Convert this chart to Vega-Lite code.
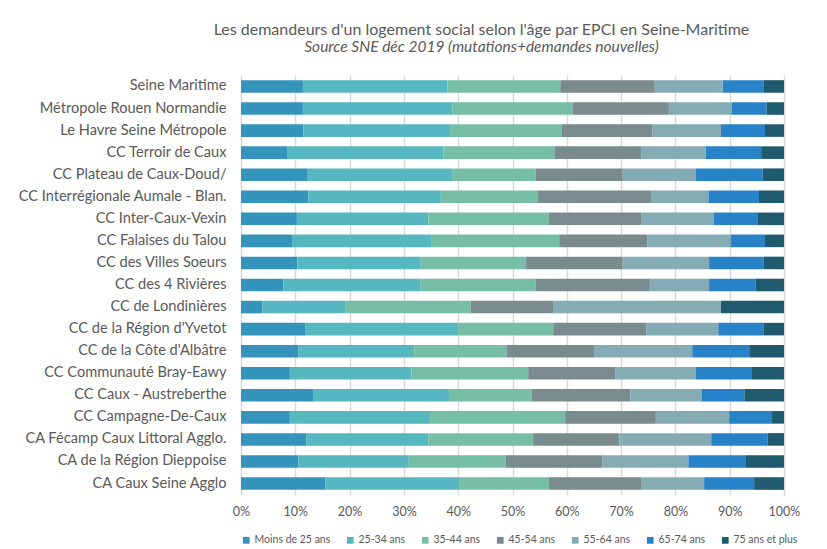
{
  "$schema": "https://vega.github.io/schema/vega-lite/v6.json",
  "width": 543,
  "height": 420,
  "autosize": {"type": "none"},
  "padding": {"left": 241, "top": 75, "right": 43, "bottom": 54},
  "background": "white",
  "title": {
    "text": "Les demandeurs d'un logement social selon l'âge par EPCI en Seine-Maritime",
    "subtitle": "Source SNE déc 2019 (mutations+demandes nouvelles)",
    "anchor": "middle",
    "frame": "group",
    "dx": -31,
    "offset": 20,
    "font": "Lato",
    "fontSize": 16,
    "fontWeight": "normal",
    "color": "#595959",
    "subtitleFont": "Lato",
    "subtitleFontSize": 15.5,
    "subtitleFontStyle": "italic",
    "subtitleColor": "#595959",
    "subtitlePadding": 2
  },
  "data": {
    "values": [
      {"epci":"Seine Maritime","age":"Moins de 25 ans","ordre":1,"pct":11.4},
      {"epci":"Seine Maritime","age":"25-34 ans","ordre":2,"pct":26.6},
      {"epci":"Seine Maritime","age":"35-44 ans","ordre":3,"pct":20.8},
      {"epci":"Seine Maritime","age":"45-54 ans","ordre":4,"pct":17.4},
      {"epci":"Seine Maritime","age":"55-64 ans","ordre":5,"pct":12.5},
      {"epci":"Seine Maritime","age":"65-74 ans","ordre":6,"pct":7.5},
      {"epci":"Seine Maritime","age":"75 ans et plus","ordre":7,"pct":3.8},

      {"epci":"Métropole Rouen Normandie","age":"Moins de 25 ans","ordre":1,"pct":11.4},
      {"epci":"Métropole Rouen Normandie","age":"25-34 ans","ordre":2,"pct":27.5},
      {"epci":"Métropole Rouen Normandie","age":"35-44 ans","ordre":3,"pct":22.2},
      {"epci":"Métropole Rouen Normandie","age":"45-54 ans","ordre":4,"pct":17.7},
      {"epci":"Métropole Rouen Normandie","age":"55-64 ans","ordre":5,"pct":11.6},
      {"epci":"Métropole Rouen Normandie","age":"65-74 ans","ordre":6,"pct":6.4},
      {"epci":"Métropole Rouen Normandie","age":"75 ans et plus","ordre":7,"pct":3.2},

      {"epci":"Le Havre Seine Métropole","age":"Moins de 25 ans","ordre":1,"pct":11.5},
      {"epci":"Le Havre Seine Métropole","age":"25-34 ans","ordre":2,"pct":27.0},
      {"epci":"Le Havre Seine Métropole","age":"35-44 ans","ordre":3,"pct":20.6},
      {"epci":"Le Havre Seine Métropole","age":"45-54 ans","ordre":4,"pct":16.7},
      {"epci":"Le Havre Seine Métropole","age":"55-64 ans","ordre":5,"pct":12.6},
      {"epci":"Le Havre Seine Métropole","age":"65-74 ans","ordre":6,"pct":8.1},
      {"epci":"Le Havre Seine Métropole","age":"75 ans et plus","ordre":7,"pct":3.5},

      {"epci":"CC Terroir de Caux","age":"Moins de 25 ans","ordre":1,"pct":8.6},
      {"epci":"CC Terroir de Caux","age":"25-34 ans","ordre":2,"pct":28.7},
      {"epci":"CC Terroir de Caux","age":"35-44 ans","ordre":3,"pct":20.5},
      {"epci":"CC Terroir de Caux","age":"45-54 ans","ordre":4,"pct":16.0},
      {"epci":"CC Terroir de Caux","age":"55-64 ans","ordre":5,"pct":11.8},
      {"epci":"CC Terroir de Caux","age":"65-74 ans","ordre":6,"pct":10.2},
      {"epci":"CC Terroir de Caux","age":"75 ans et plus","ordre":7,"pct":4.2},

      {"epci":"CC Plateau de Caux-Doud/","age":"Moins de 25 ans","ordre":1,"pct":12.3},
      {"epci":"CC Plateau de Caux-Doud/","age":"25-34 ans","ordre":2,"pct":26.7},
      {"epci":"CC Plateau de Caux-Doud/","age":"35-44 ans","ordre":3,"pct":15.3},
      {"epci":"CC Plateau de Caux-Doud/","age":"45-54 ans","ordre":4,"pct":16.0},
      {"epci":"CC Plateau de Caux-Doud/","age":"55-64 ans","ordre":5,"pct":13.5},
      {"epci":"CC Plateau de Caux-Doud/","age":"65-74 ans","ordre":6,"pct":12.3},
      {"epci":"CC Plateau de Caux-Doud/","age":"75 ans et plus","ordre":7,"pct":3.9},

      {"epci":"CC Interrégionale Aumale - Blan.","age":"Moins de 25 ans","ordre":1,"pct":12.4},
      {"epci":"CC Interrégionale Aumale - Blan.","age":"25-34 ans","ordre":2,"pct":24.4},
      {"epci":"CC Interrégionale Aumale - Blan.","age":"35-44 ans","ordre":3,"pct":17.9},
      {"epci":"CC Interrégionale Aumale - Blan.","age":"45-54 ans","ordre":4,"pct":20.8},
      {"epci":"CC Interrégionale Aumale - Blan.","age":"55-64 ans","ordre":5,"pct":10.6},
      {"epci":"CC Interrégionale Aumale - Blan.","age":"65-74 ans","ordre":6,"pct":9.3},
      {"epci":"CC Interrégionale Aumale - Blan.","age":"75 ans et plus","ordre":7,"pct":4.6},

      {"epci":"CC Inter-Caux-Vexin","age":"Moins de 25 ans","ordre":1,"pct":10.3},
      {"epci":"CC Inter-Caux-Vexin","age":"25-34 ans","ordre":2,"pct":24.2},
      {"epci":"CC Inter-Caux-Vexin","age":"35-44 ans","ordre":3,"pct":22.2},
      {"epci":"CC Inter-Caux-Vexin","age":"45-54 ans","ordre":4,"pct":17.1},
      {"epci":"CC Inter-Caux-Vexin","age":"55-64 ans","ordre":5,"pct":13.3},
      {"epci":"CC Inter-Caux-Vexin","age":"65-74 ans","ordre":6,"pct":8.1},
      {"epci":"CC Inter-Caux-Vexin","age":"75 ans et plus","ordre":7,"pct":4.8},

      {"epci":"CC Falaises du Talou","age":"Moins de 25 ans","ordre":1,"pct":9.4},
      {"epci":"CC Falaises du Talou","age":"25-34 ans","ordre":2,"pct":25.6},
      {"epci":"CC Falaises du Talou","age":"35-44 ans","ordre":3,"pct":23.6},
      {"epci":"CC Falaises du Talou","age":"45-54 ans","ordre":4,"pct":16.2},
      {"epci":"CC Falaises du Talou","age":"55-64 ans","ordre":5,"pct":15.4},
      {"epci":"CC Falaises du Talou","age":"65-74 ans","ordre":6,"pct":6.3},
      {"epci":"CC Falaises du Talou","age":"75 ans et plus","ordre":7,"pct":3.5},

      {"epci":"CC des Villes Soeurs","age":"Moins de 25 ans","ordre":1,"pct":10.4},
      {"epci":"CC des Villes Soeurs","age":"25-34 ans","ordre":2,"pct":22.7},
      {"epci":"CC des Villes Soeurs","age":"35-44 ans","ordre":3,"pct":19.4},
      {"epci":"CC des Villes Soeurs","age":"45-54 ans","ordre":4,"pct":17.8},
      {"epci":"CC des Villes Soeurs","age":"55-64 ans","ordre":5,"pct":15.9},
      {"epci":"CC des Villes Soeurs","age":"65-74 ans","ordre":6,"pct":10.1},
      {"epci":"CC des Villes Soeurs","age":"75 ans et plus","ordre":7,"pct":3.7},

      {"epci":"CC des 4 Rivières","age":"Moins de 25 ans","ordre":1,"pct":7.8},
      {"epci":"CC des 4 Rivières","age":"25-34 ans","ordre":2,"pct":25.3},
      {"epci":"CC des 4 Rivières","age":"35-44 ans","ordre":3,"pct":21.2},
      {"epci":"CC des 4 Rivières","age":"45-54 ans","ordre":4,"pct":21.0},
      {"epci":"CC des 4 Rivières","age":"55-64 ans","ordre":5,"pct":10.9},
      {"epci":"CC des 4 Rivières","age":"65-74 ans","ordre":6,"pct":8.6},
      {"epci":"CC des 4 Rivières","age":"75 ans et plus","ordre":7,"pct":5.2},

      {"epci":"CC de Londinières","age":"Moins de 25 ans","ordre":1,"pct":3.9},
      {"epci":"CC de Londinières","age":"25-34 ans","ordre":2,"pct":15.4},
      {"epci":"CC de Londinières","age":"35-44 ans","ordre":3,"pct":23.0},
      {"epci":"CC de Londinières","age":"45-54 ans","ordre":4,"pct":15.3},
      {"epci":"CC de Londinières","age":"55-64 ans","ordre":5,"pct":30.8},
      {"epci":"CC de Londinières","age":"65-74 ans","ordre":6,"pct":0},
      {"epci":"CC de Londinières","age":"75 ans et plus","ordre":7,"pct":11.6},

      {"epci":"CC de la Région d'Yvetot","age":"Moins de 25 ans","ordre":1,"pct":11.8},
      {"epci":"CC de la Région d'Yvetot","age":"25-34 ans","ordre":2,"pct":28.2},
      {"epci":"CC de la Région d'Yvetot","age":"35-44 ans","ordre":3,"pct":17.5},
      {"epci":"CC de la Région d'Yvetot","age":"45-54 ans","ordre":4,"pct":17.1},
      {"epci":"CC de la Région d'Yvetot","age":"55-64 ans","ordre":5,"pct":13.3},
      {"epci":"CC de la Région d'Yvetot","age":"65-74 ans","ordre":6,"pct":8.4},
      {"epci":"CC de la Région d'Yvetot","age":"75 ans et plus","ordre":7,"pct":3.7},

      {"epci":"CC de la Côte d'Albâtre","age":"Moins de 25 ans","ordre":1,"pct":10.6},
      {"epci":"CC de la Côte d'Albâtre","age":"25-34 ans","ordre":2,"pct":21.3},
      {"epci":"CC de la Côte d'Albâtre","age":"35-44 ans","ordre":3,"pct":17.0},
      {"epci":"CC de la Côte d'Albâtre","age":"45-54 ans","ordre":4,"pct":16.1},
      {"epci":"CC de la Côte d'Albâtre","age":"55-64 ans","ordre":5,"pct":18.1},
      {"epci":"CC de la Côte d'Albâtre","age":"65-74 ans","ordre":6,"pct":10.5},
      {"epci":"CC de la Côte d'Albâtre","age":"75 ans et plus","ordre":7,"pct":6.4},

      {"epci":"CC Communauté Bray-Eawy","age":"Moins de 25 ans","ordre":1,"pct":9.0},
      {"epci":"CC Communauté Bray-Eawy","age":"25-34 ans","ordre":2,"pct":22.4},
      {"epci":"CC Communauté Bray-Eawy","age":"35-44 ans","ordre":3,"pct":21.5},
      {"epci":"CC Communauté Bray-Eawy","age":"45-54 ans","ordre":4,"pct":16.0},
      {"epci":"CC Communauté Bray-Eawy","age":"55-64 ans","ordre":5,"pct":14.9},
      {"epci":"CC Communauté Bray-Eawy","age":"65-74 ans","ordre":6,"pct":10.3},
      {"epci":"CC Communauté Bray-Eawy","age":"75 ans et plus","ordre":7,"pct":5.9},

      {"epci":"CC Caux - Austreberthe","age":"Moins de 25 ans","ordre":1,"pct":13.4},
      {"epci":"CC Caux - Austreberthe","age":"25-34 ans","ordre":2,"pct":24.9},
      {"epci":"CC Caux - Austreberthe","age":"35-44 ans","ordre":3,"pct":15.3},
      {"epci":"CC Caux - Austreberthe","age":"45-54 ans","ordre":4,"pct":18.1},
      {"epci":"CC Caux - Austreberthe","age":"55-64 ans","ordre":5,"pct":13.1},
      {"epci":"CC Caux - Austreberthe","age":"65-74 ans","ordre":6,"pct":7.9},
      {"epci":"CC Caux - Austreberthe","age":"75 ans et plus","ordre":7,"pct":7.3},

      {"epci":"CC Campagne-De-Caux","age":"Moins de 25 ans","ordre":1,"pct":9.0},
      {"epci":"CC Campagne-De-Caux","age":"25-34 ans","ordre":2,"pct":25.8},
      {"epci":"CC Campagne-De-Caux","age":"35-44 ans","ordre":3,"pct":24.9},
      {"epci":"CC Campagne-De-Caux","age":"45-54 ans","ordre":4,"pct":16.7},
      {"epci":"CC Campagne-De-Caux","age":"55-64 ans","ordre":5,"pct":13.5},
      {"epci":"CC Campagne-De-Caux","age":"65-74 ans","ordre":6,"pct":7.9},
      {"epci":"CC Campagne-De-Caux","age":"75 ans et plus","ordre":7,"pct":2.2},

      {"epci":"CA Fécamp Caux Littoral Agglo.","age":"Moins de 25 ans","ordre":1,"pct":12.0},
      {"epci":"CA Fécamp Caux Littoral Agglo.","age":"25-34 ans","ordre":2,"pct":22.5},
      {"epci":"CA Fécamp Caux Littoral Agglo.","age":"35-44 ans","ordre":3,"pct":19.3},
      {"epci":"CA Fécamp Caux Littoral Agglo.","age":"45-54 ans","ordre":4,"pct":15.9},
      {"epci":"CA Fécamp Caux Littoral Agglo.","age":"55-64 ans","ordre":5,"pct":16.9},
      {"epci":"CA Fécamp Caux Littoral Agglo.","age":"65-74 ans","ordre":6,"pct":10.4},
      {"epci":"CA Fécamp Caux Littoral Agglo.","age":"75 ans et plus","ordre":7,"pct":3.0},

      {"epci":"CA de la Région Dieppoise","age":"Moins de 25 ans","ordre":1,"pct":10.6},
      {"epci":"CA de la Région Dieppoise","age":"25-34 ans","ordre":2,"pct":20.3},
      {"epci":"CA de la Région Dieppoise","age":"35-44 ans","ordre":3,"pct":17.8},
      {"epci":"CA de la Région Dieppoise","age":"45-54 ans","ordre":4,"pct":17.8},
      {"epci":"CA de la Région Dieppoise","age":"55-64 ans","ordre":5,"pct":15.9},
      {"epci":"CA de la Région Dieppoise","age":"65-74 ans","ordre":6,"pct":10.6},
      {"epci":"CA de la Région Dieppoise","age":"75 ans et plus","ordre":7,"pct":7.0},

      {"epci":"CA Caux Seine Agglo","age":"Moins de 25 ans","ordre":1,"pct":15.5},
      {"epci":"CA Caux Seine Agglo","age":"25-34 ans","ordre":2,"pct":24.8},
      {"epci":"CA Caux Seine Agglo","age":"35-44 ans","ordre":3,"pct":16.4},
      {"epci":"CA Caux Seine Agglo","age":"45-54 ans","ordre":4,"pct":17.1},
      {"epci":"CA Caux Seine Agglo","age":"55-64 ans","ordre":5,"pct":11.5},
      {"epci":"CA Caux Seine Agglo","age":"65-74 ans","ordre":6,"pct":9.2},
      {"epci":"CA Caux Seine Agglo","age":"75 ans et plus","ordre":7,"pct":5.5}
    ]
  },
  "mark": {"type": "bar"},
  "encoding": {
    "y": {
      "field": "epci",
      "type": "nominal",
      "sort": null,
      "scale": {"paddingInner": 0.43, "paddingOuter": 0.235},
      "axis": {
        "title": null,
        "domain": false,
        "ticks": false,
        "grid": false,
        "labelFont": "Lato",
        "labelFontSize": 14.6,
        "labelColor": "#595959",
        "labelPadding": 15,
        "labelLimit": 240
      }
    },
    "x": {
      "field": "pct",
      "type": "quantitative",
      "stack": "normalize",
      "scale": {"domain": [0, 1], "nice": false},
      "axis": {
        "title": null,
        "format": ".0%",
        "values": [0, 0.1, 0.2, 0.3, 0.4, 0.5, 0.6, 0.7, 0.8, 0.9, 1],
        "domain": false,
        "ticks": false,
        "grid": true,
        "gridColor": "#d9d9d9",
        "gridWidth": 1.5,
        "labelFont": "Lato",
        "labelFontSize": 12.5,
        "labelColor": "#595959",
        "labelPadding": 10,
        "labelFlush": false
      }
    },
    "color": {
      "field": "age",
      "type": "nominal",
      "sort": ["Moins de 25 ans", "25-34 ans", "35-44 ans", "45-54 ans", "55-64 ans", "65-74 ans", "75 ans et plus"],
      "scale": {
        "domain": ["Moins de 25 ans", "25-34 ans", "35-44 ans", "45-54 ans", "55-64 ans", "65-74 ans", "75 ans et plus"],
        "range": ["#3594bc", "#57b7c1", "#76bea5", "#7a8b8d", "#85acb5", "#2782c8", "#1f5a6e"]
      },
      "legend": {
        "title": null,
        "orient": "bottom",
        "direction": "horizontal",
        "columns": 7,
        "gridAlign": "each",
        "symbolType": "square",
        "symbolSize": 45,
        "symbolStrokeWidth": 0,
        "labelFont": "Lato",
        "labelFontSize": 10.5,
        "labelColor": "#595959",
        "labelOffset": 3,
        "columnPadding": 14,
        "offset": 17
      }
    },
    "order": {"field": "ordre", "type": "quantitative"}
  },
  "config": {
    "view": {"stroke": null}
  }
}
